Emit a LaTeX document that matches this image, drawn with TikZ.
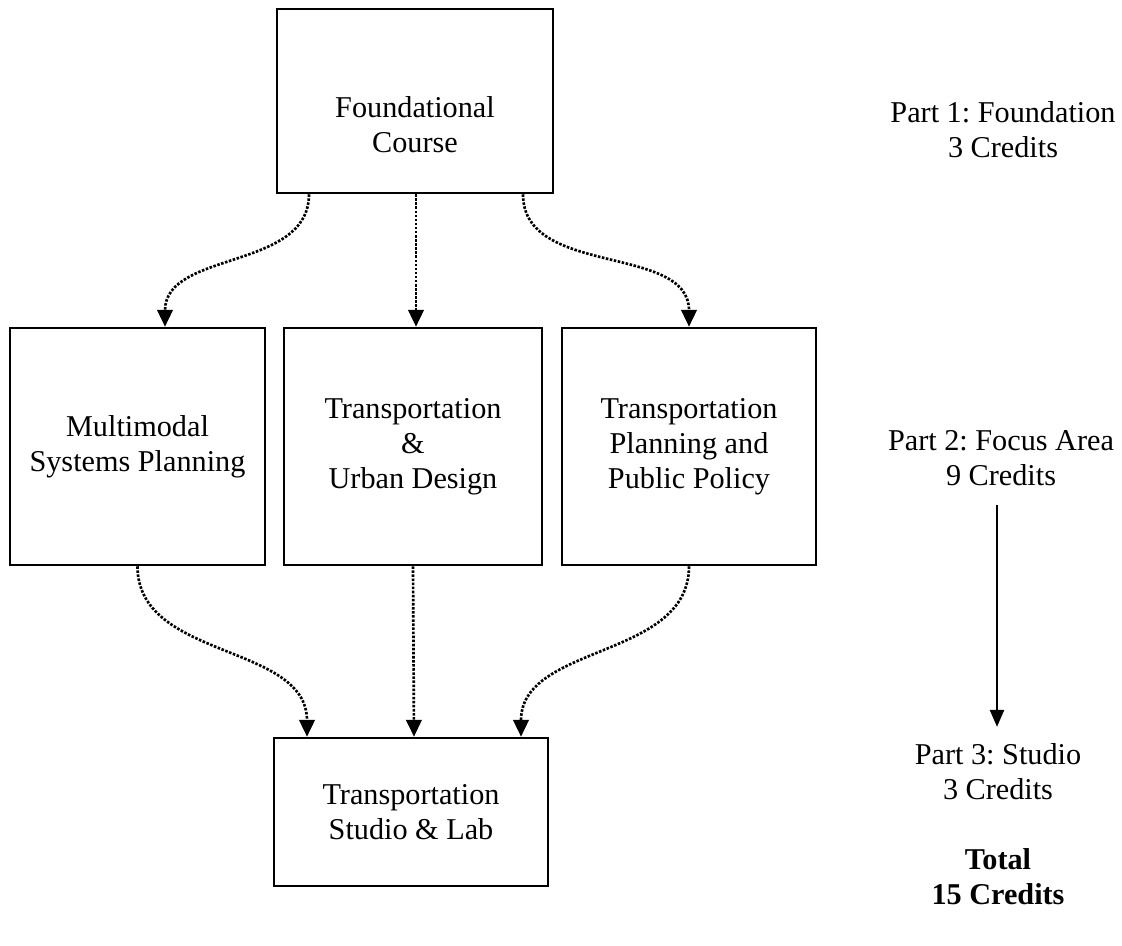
\documentclass[tikz,border=0pt]{standalone}
\usepackage{fontspec}
\setmainfont{Liberation Serif}
\usetikzlibrary{calc, arrows.meta}
\frenchspacing

\begin{document}
\begin{tikzpicture}[x=0.025cm, y=-0.025cm,
    font=\fontsize{21.5}{25}\selectfont,
    course/.style={draw, line width=1.8pt, align=center, inner sep=0pt},
    flow/.style={line width=1.9pt, dash pattern=on 1.8pt off 1.1pt,
      -{Triangle[length=12pt, width=11pt]}},
    part/.style={align=center}]
  \useasboundingbox (0,0) rectangle (1122,945);

  % courses
  \node[course, minimum width=276*0.025cm, minimum height=184*0.025cm] (found) at (415,101) {};
  \node[align=center] (foundtxt) at (415,125) {Foundational\\Course};
  \node[course, minimum width=255*0.025cm, minimum height=237*0.025cm] (multi) at (137.5,446.5)
    {Multimodal\\Systems Planning};
  \node[course, minimum width=258*0.025cm, minimum height=237*0.025cm] (urban) at (413,446.5)
    {Transportation\\\&\\Urban Design};
  \node[course, minimum width=254*0.025cm, minimum height=237*0.025cm] (policy) at (689,446.5)
    {Transportation\\Planning and\\Public Policy};
  \node[course, minimum width=274*0.025cm, minimum height=148*0.025cm] (studio) at (411,812)
    {Transportation\\Studio \& Lab};

  % connectors
  \draw[flow] ($(found.south)+(-106,0)$) to[out=-90, in=90] ($(multi.north)+(27.5,0)$);
  \draw[flow] ($(found.south)+(1,0)$) -- ($(urban.north)+(3,0)$);
  \draw[flow] ($(found.south)+(108,0)$) to[out=-90, in=90] (policy.north);
  \draw[flow] (multi.south) to[out=-90, in=90] ($(studio.north)+(-104,0)$);
  \draw[flow] (urban.south) -- ($(studio.north)+(3,0)$);
  \draw[flow] (policy.south) to[out=-90, in=90] ($(studio.north)+(110,0)$);

  % parts
  \node[part] (part1) at (1003,130) {Part 1: Foundation\\3 Credits};
  \node[part] (part2) at (1001,458) {Part 2: Focus Area\\9 Credits};
  \node[part] (part3) at (998,772) {Part 3: Studio\\3 Credits};
  \node[part, font=\fontsize{21.5}{25}\selectfont\bfseries] (total) at (998,877) {Total\\15 Credits};
  \draw[line width=1.5pt, -{Triangle[length=12pt, width=10pt]}]
    ($(part2.south)+(-4,14)$) -- ($(part3.north)+(-1,-12)$);
\end{tikzpicture}
\end{document}
